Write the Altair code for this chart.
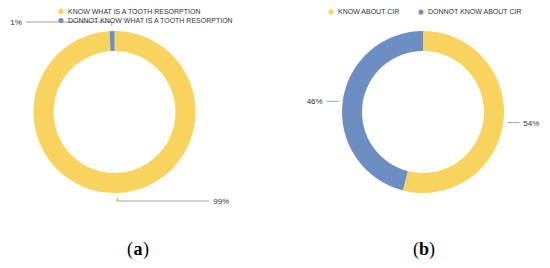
import math
import altair as alt
import pandas as pd

# ---------------- data ----------------
A_LABELS = ["KNOW WHAT IS A TOOTH RESORPTION", "DONNOT KNOW WHAT IS A TOOTH RESORPTION"]
A_VALUES = [99, 1]
B_LABELS = ["KNOW ABOUT CIR", "DONNOT KNOW ABOUT CIR"]
B_VALUES = [54, 46]
PANEL_TAGS = ["a", "b"]

# ---------------- style ----------------
COLORS = ["#F8D35D", "#6C8EC3"]
PAD = 2
OFF = 8 + PAD  # page margin + padding
W, H = 550 - 2 * OFF, 268 - 2 * OFF
CENTERS = [(114.5 - OFF, 112.0 - OFF), (423.0 - OFF, 112.0 - OFF)]
R_OUT, R_IN = 81, 61
SANS = "Liberation Sans"
SERIF = "Liberation Serif"
TEXT_COLOR = "#333333"
LINE_COLOR = "#8a8a8a"

panels = [
    dict(labels=A_LABELS, values=A_VALUES, center=CENTERS[0], elbow=True, tag=PANEL_TAGS[0]),
    dict(labels=B_LABELS, values=B_VALUES, center=CENTERS[1], elbow=False, tag=PANEL_TAGS[1]),
]

layers = []
rule_rows, label_rows, legend_rows, caption_rows = [], [], [], []

for pi, p in enumerate(panels):
    cx, cy = p["center"]
    total = sum(p["values"])
    df = pd.DataFrame({
        "label": p["labels"],
        "value": p["values"],
        "order": list(range(len(p["values"]))),
        "color": COLORS[: len(p["values"])],
    })
    arc = alt.Chart(df).mark_arc(radius=R_OUT, radius2=R_IN).encode(
        theta=alt.Theta("value:Q", stack=True, scale=alt.Scale(domain=[0, total])),
        color=alt.Color("color:N", scale=None, legend=None),
        order=alt.Order("order:Q"),
        x=alt.value(cx),
        y=alt.value(cy),
    )
    layers.append(arc)

    # leader lines and percentage labels, derived from the slice angles
    cum = 0
    for v in p["values"]:
        mid = (cum + v / 2) / total * 2 * math.pi
        cum += v
        s, c = math.sin(mid), math.cos(mid)
        direction = 1 if s >= 0 else -1
        txt = f"{v}%"
        if p["elbow"]:
            r = R_OUT + 5
            px, py = cx + r * s, cy - r * c
            ey = cy - (R_OUT + 9) if c > 0 else cy + (R_OUT + 8)
            hx = px + direction * (92 if direction > 0 else 86)
            rule_rows.append(dict(x=px, y=py, x2=px, y2=ey))
            rule_rows.append(dict(x=px, y=ey, x2=hx, y2=ey))
            label_rows.append(dict(x=hx + direction * 4, y=ey + 1, text=txt,
                                   side="left" if direction > 0 else "right"))
        else:
            r = R_OUT + 4
            px, py = cx + r * s, cy - r * c
            hx = px + direction * 12
            rule_rows.append(dict(x=px, y=py, x2=hx, y2=py))
            label_rows.append(dict(x=hx + direction * 4, y=py + 1, text=txt,
                                   side="left" if direction > 0 else "right"))

    # legend entries (page positions minus offset)
    if pi == 0:
        for i, lab in enumerate(p["labels"]):
            legend_rows.append(dict(x=61 - OFF, y=11.5 + 9 * i - OFF, text=lab, color=COLORS[i]))
    else:
        xs = [331, 421]
        for i, lab in enumerate(p["labels"]):
            legend_rows.append(dict(x=xs[i] - OFF, y=12 - OFF, text=lab, color=COLORS[i]))

    caption_rows.append(dict(x=[138.0, 424.0][pi] - OFF, y=255 - OFF, tag=p["tag"]))

X = lambda f: alt.X(f, scale=None, axis=None)
Y = lambda f: alt.Y(f, scale=None, axis=None)

rules = alt.Chart(pd.DataFrame(rule_rows)).mark_rule(color=LINE_COLOR, strokeWidth=0.8).encode(
    x=X("x:Q"), y=Y("y:Q"), x2="x2:Q", y2="y2:Q"
)
layers.append(rules)

lab_df = pd.DataFrame(label_rows)
for side in ["left", "right"]:
    layers.append(
        alt.Chart(lab_df).transform_filter(alt.datum.side == side).mark_text(
            align=side, baseline="middle", font=SANS, fontSize=8, color=TEXT_COLOR
        ).encode(x=X("x:Q"), y=Y("y:Q"), text="text:N")
    )

leg_df = pd.DataFrame(legend_rows)
layers.append(
    alt.Chart(leg_df).mark_circle(size=26, opacity=1).encode(
        x=X("x:Q"), y=Y("y:Q"), color=alt.Color("color:N", scale=None, legend=None)
    )
)
layers.append(
    alt.Chart(leg_df).mark_text(
        align="left", baseline="middle", dx=7, font=SANS, fontSize=7, color=TEXT_COLOR
    ).encode(x=X("x:Q"), y=Y("y:Q"), text="text:N")
)

cap_df = pd.DataFrame(caption_rows)
cap_common = dict(baseline="alphabetic", font=SERIF, fontSize=18, color="black")
layers.append(
    alt.Chart(cap_df).mark_text(align="right", dx=-5, **cap_common).encode(
        x=X("x:Q"), y=Y("y:Q"), text=alt.value("(")
    )
)
layers.append(
    alt.Chart(cap_df).mark_text(align="center", fontWeight="bold", **cap_common).encode(
        x=X("x:Q"), y=Y("y:Q"), text="tag:N"
    )
)
layers.append(
    alt.Chart(cap_df).mark_text(align="left", dx=5, **cap_common).encode(
        x=X("x:Q"), y=Y("y:Q"), text=alt.value(")")
    )
)

chart = alt.layer(*layers).resolve_scale(theta="independent").properties(
    width=W, height=H, padding=PAD, autosize=alt.AutoSizeParams(type="none")
).configure_view(stroke=None)

chart.save("out.html", embed_options={"renderer": "svg", "actions": False})
